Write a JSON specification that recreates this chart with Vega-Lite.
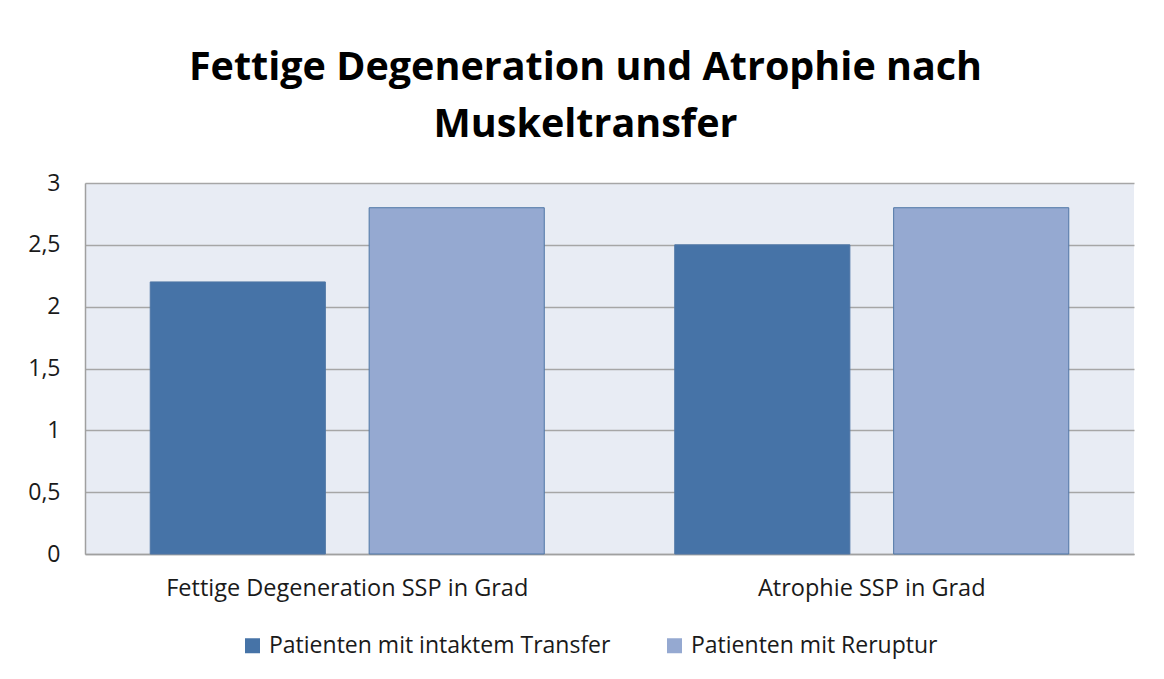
{
  "$schema": "https://vega.github.io/schema/vega-lite/v6.json",
  "autosize": {"type": "none"},
  "width": 1049,
  "height": 371,
  "padding": {"left": 85, "top": 183, "right": 30, "bottom": 125},
  "background": "white",
  "title": {
    "text": ["Fettige Degeneration und Atrophie nach", "Muskeltransfer"],
    "font": "Open Sans",
    "fontSize": 39.5,
    "fontWeight": "bold",
    "color": "#000000",
    "anchor": "middle",
    "dx": -24,
    "offset": 27,
    "lineHeight": 57
  },
  "data": {
    "values": [
      {"kategorie": "Fettige Degeneration SSP in Grad", "gruppe": "Patienten mit intaktem Transfer", "wert": 2.2},
      {"kategorie": "Fettige Degeneration SSP in Grad", "gruppe": "Patienten mit Reruptur", "wert": 2.8},
      {"kategorie": "Atrophie SSP in Grad", "gruppe": "Patienten mit intaktem Transfer", "wert": 2.5},
      {"kategorie": "Atrophie SSP in Grad", "gruppe": "Patienten mit Reruptur", "wert": 2.8}
    ]
  },
  "mark": {"type": "bar", "stroke": "#4F76A6", "strokeWidth": 1},
  "encoding": {
    "x": {
      "field": "kategorie",
      "type": "nominal",
      "sort": ["Fettige Degeneration SSP in Grad", "Atrophie SSP in Grad"],
      "scale": {"paddingInner": 0, "paddingOuter": 0},
      "axis": {
        "title": null,
        "labelAngle": 0,
        "labelFont": "Open Sans",
        "labelFontSize": 23.5,
        "labelColor": "#1a1a1a",
        "labelPadding": 22,
        "labelLimit": 600,
        "ticks": false,
        "domainColor": "#A0A0A0",
        "domainWidth": 1.5
      }
    },
    "xOffset": {
      "field": "gruppe",
      "type": "nominal",
      "sort": ["Patienten mit intaktem Transfer", "Patienten mit Reruptur"],
      "scale": {"paddingInner": 0.2, "paddingOuter": 0.298}
    },
    "y": {
      "field": "wert",
      "type": "quantitative",
      "scale": {"domain": [0, 3], "nice": false},
      "axis": {
        "title": null,
        "values": [0, 0.5, 1, 1.5, 2, 2.5, 3],
        "labelExpr": "replace(format(datum.value, '~g'), '.', ',')",
        "labelFont": "Open Sans",
        "labelFontSize": 23,
        "labelColor": "#1a1a1a",
        "labelPadding": 25,
        "ticks": false,
        "grid": true,
        "gridColor": "#A6A6A6",
        "gridWidth": 1.5,
        "domainColor": "#A0A0A0",
        "domainWidth": 1.5
      }
    },
    "color": {
      "field": "gruppe",
      "type": "nominal",
      "sort": ["Patienten mit intaktem Transfer", "Patienten mit Reruptur"],
      "scale": {"range": ["#4673A7", "#95A9D1"]},
      "legend": {
        "title": null,
        "orient": "none",
        "direction": "horizontal",
        "legendX": 156,
        "legendY": 451,
        "symbolType": "square",
        "symbolSize": 225,
        "symbolStrokeWidth": 0,
        "labelFont": "Open Sans",
        "labelFontSize": 23,
        "labelColor": "#1a1a1a",
        "labelOffset": 5,
        "columnPadding": 52,
        "labelLimit": 600
      }
    }
  },
  "config": {
    "view": {"fill": "#E8ECF4", "stroke": null}
  }
}
